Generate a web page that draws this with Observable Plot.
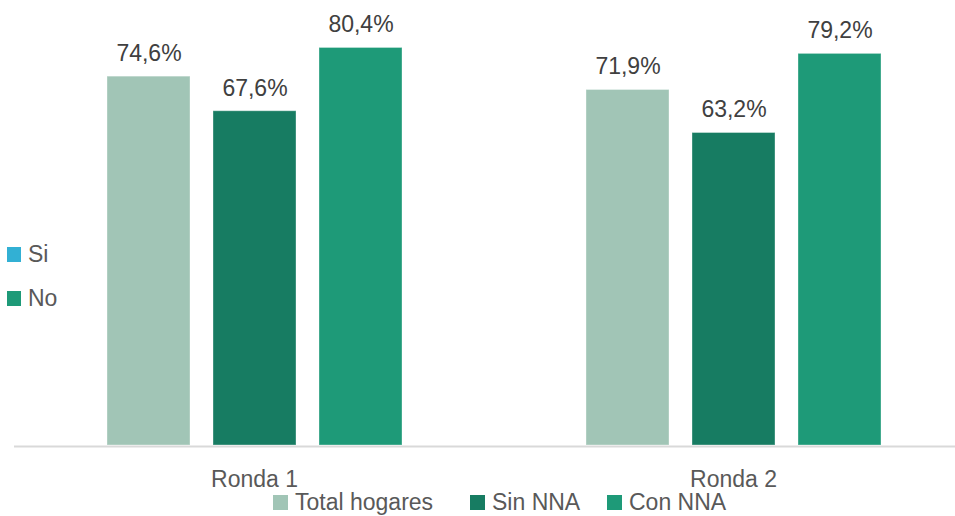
<!DOCTYPE html>
<html>
<head>
<meta charset="utf-8">
<script src="https://cdn.jsdelivr.net/npm/d3@7"></script>
<script src="https://cdn.jsdelivr.net/npm/@observablehq/plot@0.6"></script>
<style>
  html, body { margin: 0; padding: 0; background: #fff; }
  #wrap { position: relative; width: 955px; height: 516px; overflow: hidden; font-family: "Liberation Sans", Arial, sans-serif; }
  #chart svg text { fill: #595959; font-size: 23px; }
  #chart svg g[aria-label="text"] text { fill: #404040; }
  .legend { position: absolute; left: 273px; top: 488px; display: flex; align-items: center; height: 28px; font-size: 23px; color: #595959; white-space: nowrap; }
  .legend .item { display: flex; align-items: center; }
  .legend .sw { width: 15px; height: 15px; margin-right: 7px; }
  .side { position: absolute; left: 7px; font-size: 23px; color: #595959; display: flex; align-items: center; }
  .side .sw { width: 14px; height: 15px; margin-right: 7px; }
</style>
</head>
<body>
<div id="wrap">
  <div id="chart"></div>
  <div class="legend" id="legend"></div>
</div>
<script>
const rondas = ["Ronda 1", "Ronda 2"];
const series = ["Total hogares", "Sin NNA", "Con NNA"];
const ronda1 = [74.6, 67.6, 80.4];
const ronda2 = [71.9, 63.2, 79.2];
const colors = ["#a1c5b6", "#177c62", "#1e9a78"];
const sideLegend = ["Si", "No"];
const sideColors = ["#32b0d4", "#1e9a78"];

const values = [ronda1, ronda2];
const data = [];
rondas.forEach((r, i) => series.forEach((s, j) => data.push({ronda: r, serie: s, value: values[i][j]})));

const fmt = v => v.toFixed(1).replace(".", ",") + "%";

const plot = Plot.plot({
  width: 955,
  height: 516,
  marginTop: 0,
  marginBottom: 71,
  marginLeft: 15,
  marginRight: -18,
  style: {fontFamily: "Liberation Sans, Arial, sans-serif", fontSize: "23px", background: "transparent"},
  fx: {domain: rondas, paddingInner: 0.336, paddingOuter: 0.168, label: null, tickSize: 0, tickPadding: 25, axis: "bottom"},
  x: {domain: series, paddingInner: 0.217, paddingOuter: 0.1085, axis: null},
  y: {domain: [0, 90], axis: null},
  color: {domain: series, range: colors},
  marks: [
    Plot.barY(data, {fx: "ronda", x: "serie", y: "value", fill: "serie", stroke: "#ffffff", strokeOpacity: 0.35, strokeWidth: 1}),
    Plot.frame({anchor: "bottom", facet: "super", stroke: "#d9d9d9", strokeWidth: 2, dy: 1, insetLeft: -80.5, insetRight: -62}),
    Plot.text(data, {fx: "ronda", x: "serie", y: "value", text: d => fmt(d.value), dy: -23})
  ]
});
document.getElementById("chart").appendChild(plot);

// bottom legend
const leg = d3.select("#legend");
const itemWidths = [197, 137, null];
series.forEach((s, i) => {
  const it = leg.append("div").attr("class", "item");
  if (itemWidths[i]) it.style("width", itemWidths[i] + "px");
  it.append("div").attr("class", "sw").style("background", colors[i]);
  it.append("span").text(s);
});

// side legend
const wrap = d3.select("#wrap");
const sideTops = [240, 284];
sideLegend.forEach((s, i) => {
  const it = wrap.append("div").attr("class", "side").style("top", sideTops[i] + "px").style("height", "28px");
  it.append("div").attr("class", "sw").style("background", sideColors[i]);
  it.append("span").text(s);
});
</script>
</body>
</html>
